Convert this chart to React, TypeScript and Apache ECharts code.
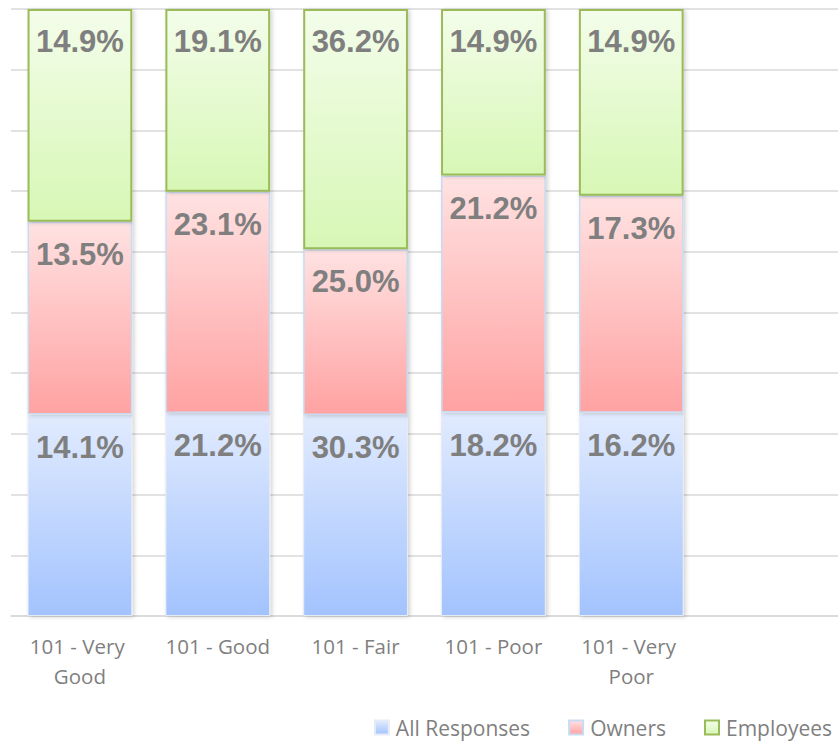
import React, { useEffect, useRef } from "react";
import * as echarts from "echarts";

const categories = ["101 - Very Good", "101 - Good", "101 - Fair", "101 - Poor", "101 - Very Poor", ""];
const allResponses = [14.1, 21.2, 30.3, 18.2, 16.2];
const owners = [13.5, 23.1, 25.0, 21.2, 17.3];
const employees = [14.9, 19.1, 36.2, 14.9, 14.9];
const yTicks = [0, 10, 20, 30, 40, 50, 60, 70, 80, 90, 100];

const grad = (top: string, bottom: string) =>
  new echarts.graphic.LinearGradient(0, 0, 0, 1, [
    { offset: 0, color: top },
    { offset: 1, color: bottom },
  ]);

export default function App() {
  const ref = useRef<HTMLDivElement>(null);
  useEffect(() => {
    if (!ref.current) return;
    const chart = echarts.init(ref.current, undefined, { renderer: "svg" });
    const totals = allResponses.map((v, i) => v + owners[i] + employees[i]);
    const pct = (arr: number[]) =>
      categories.map((_, i) => (i < arr.length ? { value: (arr[i] / totals[i]) * 100, raw: arr[i] } : null));
    const label = {
      show: true,
      position: "insideTop" as const,
      distance: 17,
      fontSize: 31,
      fontWeight: "bold" as const,
      fontFamily: "Liberation Sans, Arial, sans-serif",
      color: "#7f7f7f",
      formatter: (p: any) => `${p.data.raw.toFixed(1)}%`,
    };
    const shadow = {
      shadowBlur: 4,
      shadowOffsetX: 2,
      shadowOffsetY: 1,
      shadowColor: "rgba(0,0,0,0.18)",
    };
    chart.setOption({
      animation: false,
      grid: { left: 11, width: 836, top: 9, bottom: 128, containLabel: false },
      xAxis: {
        type: "category",
        data: categories,
        axisLine: { show: true, lineStyle: { color: "#d9d9d9", width: 1.5 } },
        axisTick: { show: false },
        axisLabel: {
          color: "#7f7f7f",
          fontSize: 20.5,
          fontFamily: "Open Sans, sans-serif",
          lineHeight: 30,
          margin: 15,
          width: 120,
          overflow: "break",
          interval: 0,
        },
      },
      yAxis: {
        type: "value",
        min: yTicks[0],
        max: yTicks[yTicks.length - 1],
        interval: 10,
        axisLabel: { show: false },
        axisLine: { show: false },
        axisTick: { show: false },
        splitLine: { lineStyle: { color: "#d9d9d9", width: 1.5 } },
      },
      legend: {
        right: 1,
        bottom: 1,
        itemWidth: 14,
        itemHeight: 14,
        itemGap: 38,
        icon: "rect",
        textStyle: {
          color: "#7f7f7f",
          fontSize: 21,
          fontFamily: "Open Sans, sans-serif",
          padding: [0, 0, 0, 2],
        },
        data: ["All Responses", "Owners", "Employees"],
      },
      series: [
        {
          name: "All Responses",
          type: "bar",
          stack: "s",
          barCategoryGap: "24%",
          data: pct(allResponses),
          itemStyle: { color: grad("#e1ebfe", "#a3c3fe"), borderColor: "#e6ecf5", borderWidth: 1, ...shadow },
          label,
        },
        {
          name: "Owners",
          type: "bar",
          stack: "s",
          data: pct(owners),
          itemStyle: { color: grad("#ffe2e2", "#ffa2a2"), borderColor: "#c9dbf2", borderWidth: 1.5, ...shadow },
          label,
        },
        {
          name: "Employees",
          type: "bar",
          stack: "s",
          data: pct(employees),
          itemStyle: { color: grad("#f3fdea", "#d7f7b5"), borderColor: "#9bbb59", borderWidth: 2, ...shadow },
          label,
        },
      ],
    });
    return () => chart.dispose();
  }, []);
  return (
    <div
      ref={ref}
      style={{ position: "absolute", left: 0, top: 0, width: 838, height: 744 }}
    />
  );
}
